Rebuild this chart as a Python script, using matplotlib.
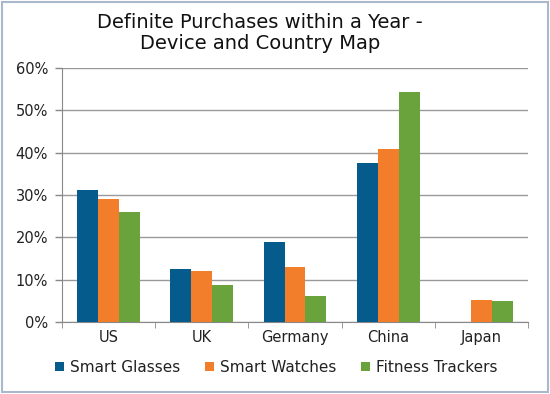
import matplotlib
matplotlib.use("Agg")
import matplotlib.pyplot as plt
import numpy as np
from matplotlib.patches import Rectangle

countries = ["US", "UK", "Germany", "China", "Japan"]
series_names = ["Smart Glasses", "Smart Watches", "Fitness Trackers"]
smart_glasses = [31.2, 12.6, 18.8, 37.5, 0.0]
smart_watches = [29.0, 12.1, 12.9, 40.8, 5.2]
fitness_trackers = [25.9, 8.8, 6.1, 54.4, 5.0]
colors = ["#045B8C", "#F27E2B", "#6AA33B"]
yticks = [0, 10, 20, 30, 40, 50, 60]

plt.rcParams['font.family'] = ['DejaVu Sans']
fig = plt.figure(figsize=(5.5, 3.94), dpi=100)
fig.patches.append(Rectangle((0.004, 0.004), 0.992, 0.99, transform=fig.transFigure,
                             fill=False, edgecolor="#A9B8CC", linewidth=1.5))
ax = fig.add_axes([62/550, 1-322/394, (528-62)/550, (322-68)/394])

x = np.arange(len(countries))
w = 0.225
for i, vals in enumerate([smart_glasses, smart_watches, fitness_trackers]):
    ax.bar(x + (i-1)*w, vals, width=w, color=colors[i], label=series_names[i], zorder=3)

ax.set_xlim(-0.5, len(countries)-0.5)
ax.set_ylim(0, 60)
ax.set_yticks(yticks)
ax.set_yticklabels([f"{t}%" for t in yticks], fontsize=10.5, color="#222222")
ax.set_xticks(x)
ax.set_xticklabels(countries, fontsize=10.5, color="#222222")
ax.tick_params(axis='x', length=0, pad=6)
ax.tick_params(axis='y', length=5, color="#888888", width=1, pad=5)
ax.set_xticks(np.arange(-0.5, len(countries)), minor=True)
ax.tick_params(axis='x', which='minor', length=4, color="#888888", direction='out')
ax.grid(axis='y', color="#999999", linewidth=1, zorder=0)
for s in ["top", "right"]:
    ax.spines[s].set_visible(False)
ax.spines["left"].set_color("#888888")
ax.spines["bottom"].set_color("#888888")

fig.text(260/550, 1-33/394, "Definite Purchases within a Year -\nDevice and Country Map",
         ha="center", va="center", fontsize=14, color="#111111", linespacing=1.15)

leg = ax.legend(loc="upper center", bbox_to_anchor=(0.46, -0.095), ncol=3, frameon=False,
                fontsize=11, handlelength=0.6, handleheight=0.6, handletextpad=0.4,
                columnspacing=1.6, labelcolor="#222222")

fig.savefig("out.png", dpi=100)
